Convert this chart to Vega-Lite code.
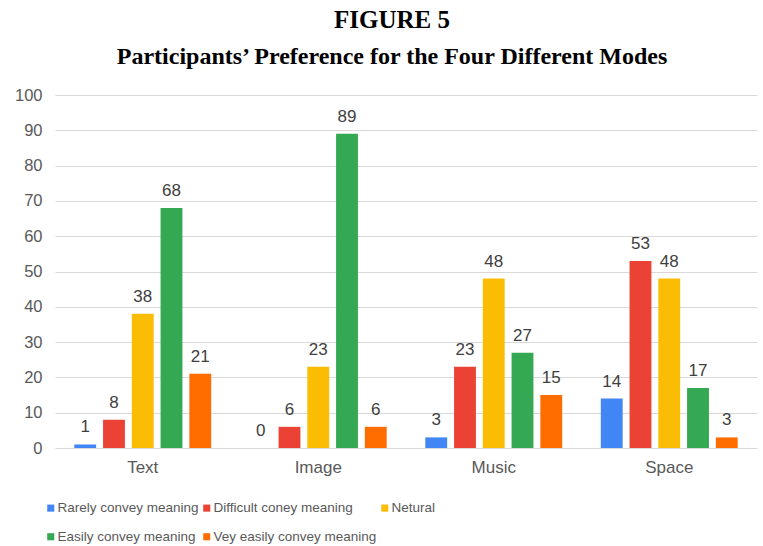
{
  "$schema": "https://vega.github.io/schema/vega-lite/v6.json",
  "width": 702,
  "height": 353,
  "autosize": {"type": "none"},
  "padding": {"left": 55, "top": 95, "right": 6, "bottom": 98},
  "background": "white",
  "title": {
    "text": "FIGURE 5",
    "subtitle": "Participants’ Preference for the Four Different Modes",
    "font": "Liberation Serif",
    "fontSize": 25,
    "fontWeight": "bold",
    "color": "black",
    "subtitleFont": "Liberation Serif",
    "subtitleFontSize": 24,
    "subtitleFontWeight": "bold",
    "subtitleColor": "black",
    "subtitlePadding": 12,
    "anchor": "middle",
    "offset": 18,
    "dx": -14
  },
  "data": {
    "values": [
      {"mode": "Text", "rating": "Rarely convey meaning", "value": 1},
      {"mode": "Text", "rating": "Difficult coney meaning", "value": 8},
      {"mode": "Text", "rating": "Netural", "value": 38},
      {"mode": "Text", "rating": "Easily convey meaning", "value": 68},
      {"mode": "Text", "rating": "Vey easily convey meaning", "value": 21},
      {"mode": "Image", "rating": "Rarely convey meaning", "value": 0},
      {"mode": "Image", "rating": "Difficult coney meaning", "value": 6},
      {"mode": "Image", "rating": "Netural", "value": 23},
      {"mode": "Image", "rating": "Easily convey meaning", "value": 89},
      {"mode": "Image", "rating": "Vey easily convey meaning", "value": 6},
      {"mode": "Music", "rating": "Rarely convey meaning", "value": 3},
      {"mode": "Music", "rating": "Difficult coney meaning", "value": 23},
      {"mode": "Music", "rating": "Netural", "value": 48},
      {"mode": "Music", "rating": "Easily convey meaning", "value": 27},
      {"mode": "Music", "rating": "Vey easily convey meaning", "value": 15},
      {"mode": "Space", "rating": "Rarely convey meaning", "value": 14},
      {"mode": "Space", "rating": "Difficult coney meaning", "value": 53},
      {"mode": "Space", "rating": "Netural", "value": 48},
      {"mode": "Space", "rating": "Easily convey meaning", "value": 17},
      {"mode": "Space", "rating": "Vey easily convey meaning", "value": 3}
    ]
  },
  "encoding": {
    "x": {
      "field": "mode",
      "type": "nominal",
      "sort": ["Text", "Image", "Music", "Space"],
      "scale": {"paddingInner": 0.22, "paddingOuter": 0.11},
      "axis": {
        "title": null,
        "domain": false,
        "ticks": false,
        "labelAngle": 0,
        "labelFont": "Liberation Sans",
        "labelFontSize": 17,
        "labelColor": "#595959",
        "labelPadding": 11
      }
    },
    "xOffset": {
      "field": "rating",
      "type": "nominal",
      "sort": ["Rarely convey meaning", "Difficult coney meaning", "Netural", "Easily convey meaning", "Vey easily convey meaning"],
      "scale": {"paddingInner": 0.24, "paddingOuter": 0}
    },
    "y": {
      "field": "value",
      "type": "quantitative",
      "scale": {"domain": [0, 100]},
      "axis": {
        "title": null,
        "values": [0, 10, 20, 30, 40, 50, 60, 70, 80, 90, 100],
        "domain": false,
        "ticks": false,
        "grid": true,
        "gridColor": "#d9d9d9",
        "gridWidth": 1.2,
        "labelFont": "Liberation Sans",
        "labelFontSize": 16.5,
        "labelColor": "#595959",
        "labelPadding": 13
      }
    }
  },
  "layer": [
    {
      "mark": {"type": "bar"},
      "encoding": {
        "color": {
          "field": "rating",
          "type": "nominal",
          "sort": ["Rarely convey meaning", "Difficult coney meaning", "Netural", "Easily convey meaning", "Vey easily convey meaning"],
          "scale": {
            "domain": ["Rarely convey meaning", "Difficult coney meaning", "Netural", "Easily convey meaning", "Vey easily convey meaning"],
            "range": ["#4285F4", "#EA4335", "#FBBC04", "#34A853", "#FF6D01"]
          },
          "legend": {
            "title": null,
            "orient": "none",
            "legendX": -11,
            "legendY": 406,
            "direction": "horizontal",
            "columns": 3,
            "columnPadding": 1,
            "rowPadding": 14,
            "symbolType": "square",
            "symbolSize": 50,
            "symbolStrokeWidth": 0,
            "labelOffset": 0,
            "labelFont": "Liberation Sans",
            "labelFontSize": 13.5,
            "labelColor": "#595959",
            "labelLimit": 300
          }
        }
      }
    },
    {
      "mark": {
        "type": "text",
        "baseline": "alphabetic",
        "dy": -12,
        "font": "Liberation Sans",
        "fontSize": 17,
        "color": "#404040"
      },
      "encoding": {
        "text": {"field": "value", "type": "quantitative"}
      }
    }
  ],
  "config": {
    "view": {"stroke": null}
  }
}
